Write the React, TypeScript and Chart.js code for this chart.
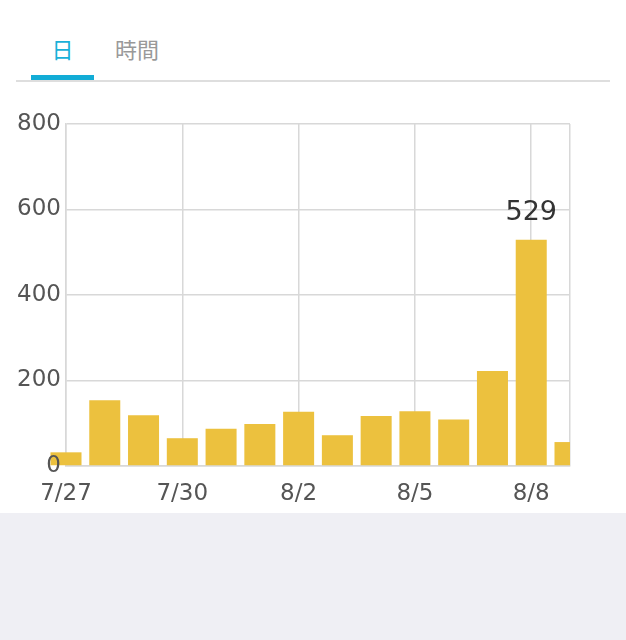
import React, { useRef, useEffect } from 'react'
import { Chart, registerables, ChartConfiguration, Plugin } from 'chart.js'

Chart.register(...registerables)

// 日別の件数
const days = ['7/27', '7/28', '7/29', '7/30', '7/31', '8/1', '8/2', '8/3', '8/4', '8/5', '8/6', '8/7', '8/8', '8/9']
const counts = [32, 154, 119, 65, 87, 98, 127, 72, 117, 128, 109, 222, 529, 56]
const yTicks = [0, 200, 400, 600, 800]
const tabs = ['日', '時間']

const TICK_FONT = "'DejaVu Sans', sans-serif"

// 最大値の上にだけ数値を出す
const peakLabel: Plugin<'bar'> = {
    id: 'peakLabel',
    afterDatasetsDraw(chart) {
        const meta = chart.getDatasetMeta(0)
        const values = chart.data.datasets[0].data as number[]
        let top = 0
        values.forEach((v, i) => { if (v > values[top]) top = i })
        const bar = meta.data[top]
        if (!bar) return
        const ctx = chart.ctx
        ctx.save()
        ctx.font = `27px ${TICK_FONT}`
        ctx.fillStyle = '#333'
        ctx.textAlign = 'center'
        ctx.textBaseline = 'alphabetic'
        ctx.fillText(String(values[top]), bar.x, bar.y - 20)
        ctx.restore()
    }
}

const DailyChart: React.FC = () => {
    const canvasRef = useRef<HTMLCanvasElement | null>(null)
    const chartRef = useRef<Chart<'bar', number[], string> | null>(null)

    useEffect(() => {
        if (!canvasRef.current) return
        const gridColor = '#d8d8d8'
        const config: ChartConfiguration<'bar', number[], string> = {
            type: 'bar',
            data: {
                labels: days,
                datasets: [
                    {
                        data: counts,
                        backgroundColor: '#ecc13e',
                        borderWidth: 0,
                        barPercentage: 1,
                        categoryPercentage: 0.8,
                        clip: { left: false, top: false, right: 0, bottom: 0 } as any
                    }
                ]
            },
            options: {
                animation: false,
                responsive: true,
                maintainAspectRatio: false,
                layout: { padding: { top: 29, right: 56, bottom: 0, left: 0 } },
                plugins: {
                    legend: { display: false },
                    tooltip: { enabled: false }
                },
                scales: {
                    x: {
                        offset: false,
                        afterFit: (scale) => { scale.height = 47 },
                        grid: {
                            offset: false,
                            drawTicks: false,
                            lineWidth: 1.5,
                            color: (ctx) => (ctx.index % 3 === 0 || ctx.index === days.length - 1 ? gridColor : 'transparent')
                        },
                        border: { color: gridColor, width: 1.5 },
                        ticks: {
                            autoSkip: false,
                            maxRotation: 0,
                            padding: 14,
                            color: '#555',
                            font: { family: TICK_FONT, size: 23 },
                            callback: (_v, i) => (i % 3 === 0 ? days[i] : '')
                        }
                    },
                    y: {
                        min: yTicks[0],
                        max: yTicks[yTicks.length - 1],
                        afterFit: (scale) => { scale.width = 66 },
                        grid: { drawTicks: false, lineWidth: 1.5, color: gridColor },
                        border: { color: gridColor, width: 1.5 },
                        ticks: {
                            stepSize: 200,
                            padding: 5,
                            z: 1,
                            color: '#555',
                            font: { family: TICK_FONT, size: 23 }
                        }
                    }
                }
            },
            plugins: [peakLabel]
        }
        chartRef.current = new Chart(canvasRef.current, config)
        return () => {
            chartRef.current?.destroy()
        }
    }, [])

    return <canvas ref={canvasRef} />
}

export default function App() {
    useEffect(() => {
        document.body.style.margin = '0'
    }, [])

    return (
        <div style={{ position: 'absolute', left: 0, top: 0, width: 626, height: 640, background: '#efeff4', overflow: 'hidden' }}>
            <div style={{ position: 'absolute', left: 0, top: 0, width: 626, height: 513, background: '#fff' }}>
                {tabs.map((t, i) => (
                    <div
                        key={t}
                        style={{
                            position: 'absolute',
                            left: i === 0 ? 31 : 104,
                            width: i === 0 ? 63 : 66,
                            top: 37,
                            lineHeight: '22px',
                            fontSize: 22,
                            textAlign: 'center',
                            fontFamily: "'Noto Sans CJK JP', sans-serif",
                            color: i === 0 ? '#1ab0d8' : '#999'
                        }}
                    >
                        {t}
                    </div>
                ))}
                <div style={{ position: 'absolute', left: 31, top: 75, width: 63, height: 5, background: '#12acd6' }} />
                <div style={{ position: 'absolute', left: 16, top: 80, width: 594, height: 2, background: '#dedede' }} />
                <div style={{ position: 'absolute', left: 0, top: 95, width: 626, height: 418 }}>
                    <DailyChart />
                </div>
            </div>
        </div>
    )
}
